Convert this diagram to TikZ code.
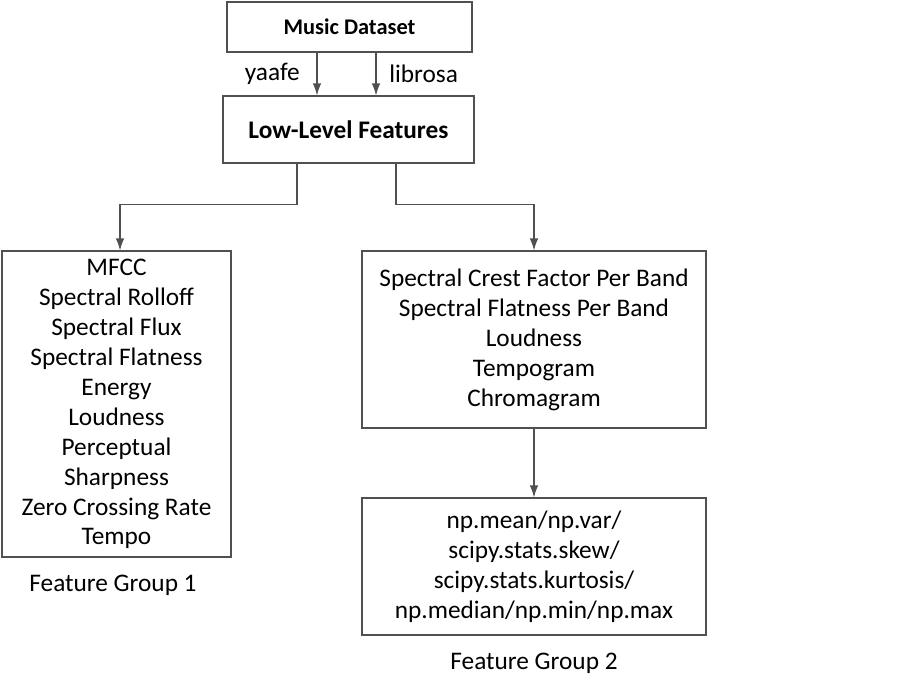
\documentclass[tikz,border=0pt]{standalone}
\usepackage{fontspec}
\setmainfont{Carlito}
\usepackage{xcolor}
\usetikzlibrary{positioning}
\usetikzlibrary{arrows.meta}
\definecolor{linegray}{RGB}{80,80,80}
\tikzset{
	box/.style={rectangle,draw=linegray,thick,align=center,inner sep=2pt,
		font=\fontsize{18}{21.3}\selectfont},
	title box/.style={box,font=\bfseries\fontsize{18}{21}\selectfont},
	caption/.style={font=\fontsize{18}{21.3}\selectfont},
	link/.style={draw=linegray,thick,-{Latex[length=8.5pt,width=6pt]}}
}

\begin{document}
\begin{tikzpicture}[x=0.025cm,y=-0.025cm]
	\useasboundingbox (0,0) rectangle (920,690);
	\node [title box,minimum width=6.125cm,minimum height=1.25cm,
		font=\bfseries\fontsize{15.9}{18}\selectfont] (data) at (349.5,27) {Music Dataset};
	\node [title box,minimum width=6.275cm,minimum height=1.675cm] (low) at (348.5,129.5) {Low-Level Features};
	\node [box,minimum width=5.725cm,minimum height=7.65cm] (grp1) at (116.5,404)
		{MFCC\\Spectral Rolloff\\Spectral Flux\\Spectral Flatness\\Energy\\Loudness\\Perceptual\\Sharpness\\Zero Crossing Rate\\Tempo};
	\node [box,minimum width=8.6cm,minimum height=4.425cm] (band) at (534,339.5)
		{Spectral Crest Factor Per Band\\Spectral Flatness Per Band\\Loudness\\Tempogram\\Chromagram};
	\node [box,minimum width=8.6cm,minimum height=3.425cm] (stats) at (534,566.5)
		{np.mean/np.var/\\scipy.stats.skew/\\scipy.stats.kurtosis/\\np.median/np.min/np.max};
	\node [caption] (cap1) at ([xshift=-0.0875cm,yshift=-0.7cm]grp1.south) {Feature Group 1};
	\node [caption] (cap2) at ([yshift=-0.7cm]stats.south) {Feature Group 2};

	% extraction tools
	\draw [link] ([xshift=-0.8125cm]data.south) -- ([xshift=-0.8125cm]data.south |- low.north)
		node [midway,left=0.3cm,caption] (yaafe) {yaafe};
	\draw [link] ([xshift=0.6625cm]data.south) -- ([xshift=0.6625cm]data.south |- low.north)
		node [midway,right=0.2cm,caption] (librosa) {librosa};

	% feature groups
	\draw [link] ([xshift=-1.2875cm]low.south) -- ++(0,41) -| ([xshift=0.0875cm]grp1.north);
	\draw [link] ([xshift=1.1875cm]low.south) -- ++(0,41) -| (band.north);
	\draw [link] (band.south) -- (stats.north);
\end{tikzpicture}
\end{document}
